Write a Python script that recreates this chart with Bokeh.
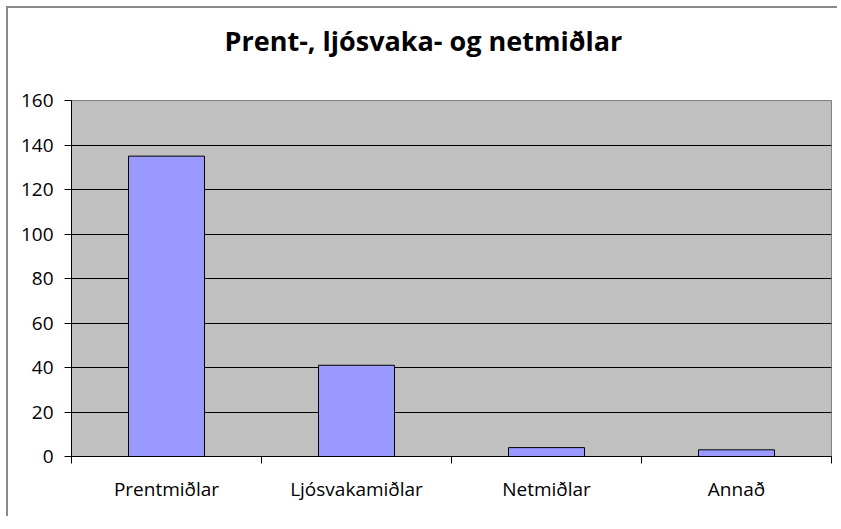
from bokeh.plotting import figure
from bokeh.models import FixedTicker, Range1d, Title, InlineStyleSheet
from bokeh.embed import file_html
from bokeh.resources import INLINE

title_text = "Prent-, ljósvaka- og netmiðlar"
categories = ["Prentmiðlar", "Ljósvakamiðlar", "Netmiðlar", "Annað"]
values = [135, 41, 4, 3]
y_ticks = [0, 20, 40, 60, 80, 100, 120, 140, 160]

n = len(categories)
centers = [i + 0.5 for i in range(n)]
bounds = [float(i) for i in range(n + 1)]

p = figure(width=831, height=510, output_backend="svg", toolbar_location=None,
           x_range=Range1d(0, n), y_range=Range1d(y_ticks[0], y_ticks[-1]),
           min_border_left=63, min_border_right=8, min_border_top=92, min_border_bottom=62)

p.background_fill_color = "#C0C0C0"
p.border_fill_color = "white"
p.outline_line_color = "#808080"
p.outline_line_width = 1

p.vbar(x=centers, top=values, width=0.4, bottom=0, fill_color="#9999FF",
       line_color="black", line_width=1)

# axes
p.xaxis.ticker = FixedTicker(ticks=centers, minor_ticks=bounds)
p.xaxis.major_label_overrides = {c: lab for c, lab in zip(centers, categories)}
p.xaxis.major_tick_out = 0
p.xaxis.major_tick_in = 0
p.xaxis.minor_tick_out = 7
p.xaxis.minor_tick_in = 0
p.xaxis.minor_tick_line_color = "black"
p.xaxis.axis_line_color = "black"
p.xaxis.major_label_standoff = 12
p.xaxis.major_label_text_font = "Open Sans"
p.xaxis.major_label_text_font_size = "19px"
p.xaxis.major_label_text_color = "black"

p.yaxis.ticker = FixedTicker(ticks=y_ticks)
p.yaxis.major_tick_out = 7
p.yaxis.major_tick_in = 0
p.yaxis.minor_tick_out = 0
p.yaxis.minor_tick_in = 0
p.yaxis.major_tick_line_color = "black"
p.yaxis.axis_line_color = "black"
p.yaxis.major_label_standoff = 11
p.yaxis.major_label_text_font = "Open Sans"
p.yaxis.major_label_text_font_size = "19px"
p.yaxis.major_label_text_color = "black"

p.xgrid.grid_line_color = None
p.ygrid.grid_line_color = "black"
p.ygrid.grid_line_width = 1

p.title = Title(text=title_text, align="left", text_font="Open Sans",
                text_font_size="27px", text_font_style="bold", text_color="black",
                standoff=0, offset=153)
# empty spacer between the title and the plot area
p.add_layout(Title(text=" ", text_font_size="1px", standoff=39), "above")

p.stylesheets = [InlineStyleSheet(css=":host { margin-left: 6px; margin-top: 6px; overflow: hidden; "
                                      "border-left: 2px solid #8a8a8a; border-top: 2px solid #8a8a8a; }")]

open("out.html", "w").write(file_html(p, INLINE))
